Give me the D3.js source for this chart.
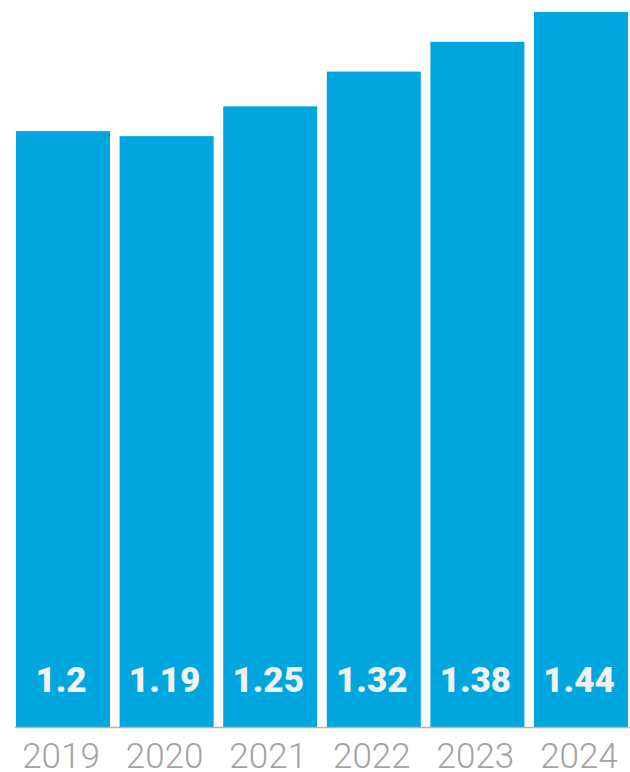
<!DOCTYPE html>
<html><head><meta charset="utf-8">
<script src="https://cdn.jsdelivr.net/npm/d3@7"></script>
<style>html,body{margin:0;padding:0;background:#fff;}</style>
</head><body>
<script>
const categories = ["2019","2020","2021","2022","2023","2024"];
const values = [1.2, 1.19, 1.25, 1.32, 1.38, 1.44];
const valueLabels = ["1.2","1.19","1.25","1.32","1.38","1.44"];

const W = 630, H = 772;
const svg = d3.select("body").append("svg").attr("width", W).attr("height", H);

const baseY = 727, topY = 12;
const x = d3.scaleBand().domain(categories).range([16, 628]).paddingInner(0.0927).paddingOuter(0);
const y = d3.scaleLinear().domain([0, 1.44]).range([baseY, topY]);

svg.selectAll("rect.bar").data(values).join("rect")
  .attr("class","bar")
  .attr("x",(d,i)=>x(categories[i]))
  .attr("width",x.bandwidth())
  .attr("y",d=>y(d))
  .attr("height",d=>y(0)-y(d))
  .attr("fill","#00a6de");

svg.append("line").attr("x1",15).attr("x2",W).attr("y1",baseY+0.5).attr("y2",baseY+0.5)
  .attr("stroke","#b3b3b3").attr("stroke-width",1.5);

svg.selectAll("text.val").data(valueLabels).join("text")
  .attr("class","val")
  .attr("x",(d,i)=>x(categories[i])+x.bandwidth()/2 - 2)
  .attr("y",692)
  .attr("text-anchor","middle")
  .attr("font-family","Roboto, 'Open Sans', sans-serif")
  .attr("font-weight",900)
  .attr("font-size",35)
  .attr("fill","#f2f2f2")
  .text(d=>d);

svg.selectAll("text.cat").data(categories).join("text")
  .attr("class","cat")
  .attr("x",(d)=>x(d)+x.bandwidth()/2 - 2)
  .attr("y",768)
  .attr("text-anchor","middle")
  .attr("font-family","Roboto, 'Open Sans', sans-serif")
  .attr("font-weight",300)
  .attr("font-size",35)
  .attr("fill","#a3a3a3")
  .text(d=>d);
</script>
</body></html>
